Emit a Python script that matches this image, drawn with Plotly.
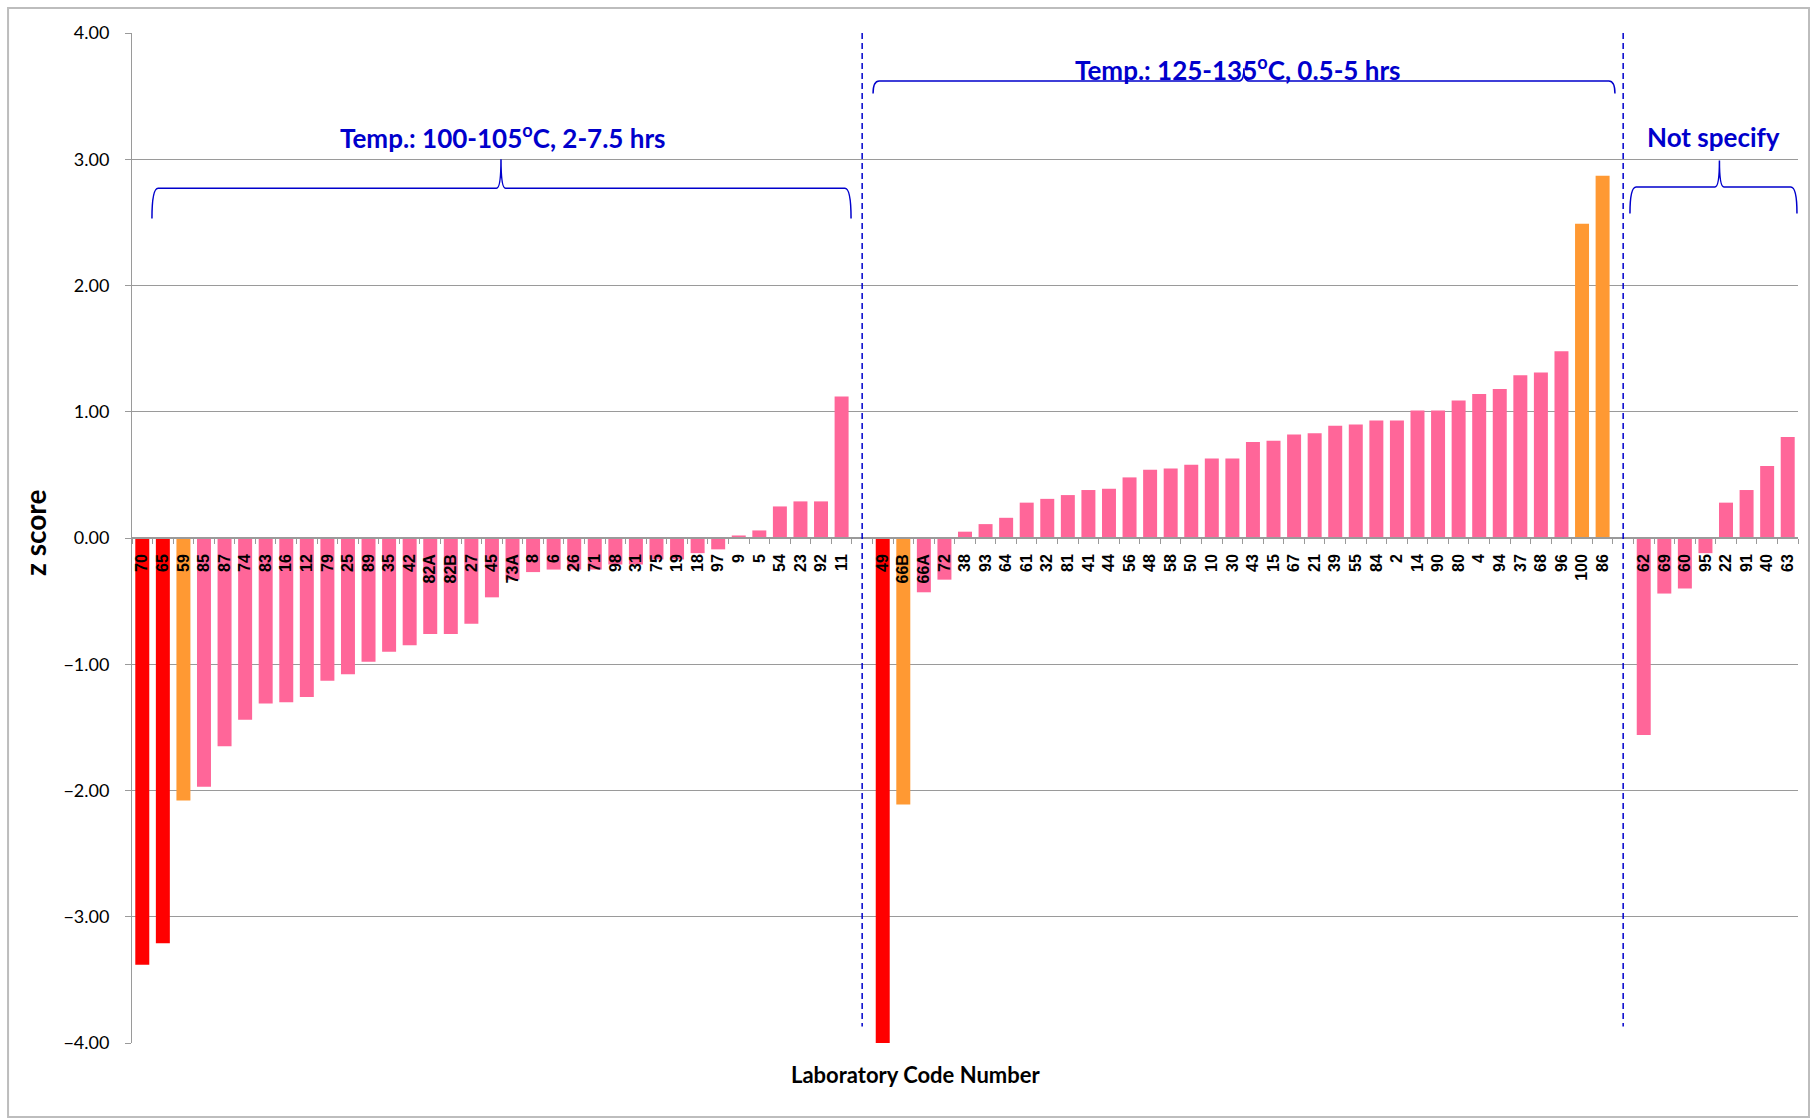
import plotly.graph_objects as go

# z scores per laboratory, grouped by drying condition
g1_labels = ["70", "65", "59", "85", "87", "74", "83", "16", "12", "79", "25", "89",
             "35", "42", "82A", "82B", "27", "45", "73A", "8", "6", "26", "71", "98",
             "31", "75", "19", "18", "97", "9", "5", "54", "23", "92", "11"]
g1_z = [-3.38, -3.21, -2.08, -1.97, -1.65, -1.44, -1.31, -1.30, -1.26, -1.13, -1.08, -0.98,
        -0.90, -0.85, -0.76, -0.76, -0.68, -0.47, -0.33, -0.27, -0.25, -0.25, -0.25, -0.21,
        -0.21, -0.17, -0.17, -0.12, -0.09, 0.02, 0.06, 0.25, 0.29, 0.29, 1.12]

g2_labels = ["49", "66B", "66A", "72", "38", "93", "64", "61", "32", "81", "41", "44",
             "56", "48", "58", "50", "10", "30", "43", "15", "67", "21", "39", "55",
             "84", "2", "14", "90", "80", "4", "94", "37", "68", "96", "100", "86"]
g2_z = [-4.00, -2.11, -0.43, -0.33, 0.05, 0.11, 0.16, 0.28, 0.31, 0.34, 0.38, 0.39,
        0.48, 0.54, 0.55, 0.58, 0.63, 0.63, 0.76, 0.77, 0.82, 0.83, 0.89, 0.90,
        0.93, 0.93, 1.01, 1.01, 1.09, 1.14, 1.18, 1.29, 1.31, 1.48, 2.49, 2.87]

g3_labels = ["62", "69", "60", "95", "22", "91", "40", "63"]
g3_z = [-1.56, -0.44, -0.40, -0.12, 0.28, 0.38, 0.57, 0.80]

group_titles = ["Temp.: 100-105<sup>o</sup>C, 2-7.5 hrs",
                "Temp.: 125-135<sup>o</sup>C, 0.5-5 hrs",
                "Not specify"]

RED, ORANGE, PINK = "#FF0000", "#FF9933", "#FF6699"
BLUE = "#0000CC"
GRID = "#9A9A9A"


def z_colour(z):
    a = abs(z)
    if a >= 3:
        return RED
    if a >= 2:
        return ORANGE
    return PINK


# lay the groups out on one axis, with an empty slot between groups
groups = [(g1_labels, g1_z), (g2_labels, g2_z), (g3_labels, g3_z)]
xs, zs, labels, spans, seps = [], [], [], [], []
pos = 0
for gi, (lab, zz) in enumerate(groups):
    start = pos
    for l, z in zip(lab, zz):
        xs.append(pos)
        zs.append(z)
        labels.append(l)
        pos += 1
    spans.append((start, pos - 1))
    if gi < len(groups) - 1:
        seps.append(pos)
        pos += 1
n_slots = pos

fig = go.Figure(go.Bar(
    x=xs, y=zs,
    marker=dict(color=[z_colour(z) for z in zs], line=dict(width=0)),
    width=0.68,
    hoverinfo="x+y",
))

shapes = []
# dashed separators between groups
for s in seps:
    shapes.append(dict(type="line", xref="x", yref="y", x0=s, x1=s, y0=4.0, y1=-3.87,
                       line=dict(color=BLUE, width=1.5, dash="6px,4px")))


def brace(xl, xr, xc, yh, yt, yp, rx=0.3, px=0.22):
    return (f"M {xl},{yt} Q {xl},{yh} {xl + rx},{yh} "
            f"L {xc - px},{yh} Q {xc},{yh} {xc},{yp} "
            f"Q {xc},{yh} {xc + px},{yh} "
            f"L {xr - rx},{yh} Q {xr},{yh} {xr},{yt}")


brace_geom = [
    (0.47, 34.46, 17.44, 2.77, 2.53, 3.00),
    (35.53, 71.60, 53.56, 3.62, 3.52, 3.72),
    (72.33, 80.45, 76.68, 2.78, 2.57, 2.99),
]
for g in brace_geom:
    shapes.append(dict(type="path", xref="x", yref="y", path=brace(*g),
                       line=dict(color=BLUE, width=1.5)))

# chart border
shapes.append(dict(type="rect", xref="paper", yref="paper",
                   x0=-0.0744, x1=1.0066, y0=-0.0733, y1=1.0248,
                   line=dict(color="#BDBDBD", width=2), layer="below"))

title_font = dict(family="Lato", size=26, color=BLUE, weight="bold")
annotations = [
    dict(x=17.54, y=3.18, xref="x", yref="y", text=group_titles[0], showarrow=False,
         font=title_font),
    dict(x=53.25, y=3.72, xref="x", yref="y", text=group_titles[1], showarrow=False,
         font=title_font),
    dict(x=76.37, y=3.18, xref="x", yref="y", text=group_titles[2], showarrow=False,
         font=title_font),
    dict(x=(35 - 132) / 1666, y=0.04, xref="paper", yref="y", text="z score",
         textangle=-90, showarrow=False, xanchor="center", yanchor="middle",
         font=dict(family="Lato", size=28, color="black", weight="bold")),
    dict(x=(915 - 132) / 1666, y=(1043 - 1090) / 1010, xref="paper", yref="paper",
         text="Laboratory Code Number", showarrow=False,
         font=dict(family="Lato", size=22, color="black", weight="bold")),
]

fig.update_layout(
    width=1818, height=1120,
    margin=dict(l=132, r=20, t=33, b=77),
    paper_bgcolor="white", plot_bgcolor="white",
    showlegend=False,
    shapes=shapes,
    annotations=annotations,
    xaxis=dict(
        range=[-0.5, n_slots - 0.5],
        tickmode="array", tickvals=xs, ticktext=labels,
        tickangle=-90, ticks="", ticklabelstandoff=9,
        tickfont=dict(family="Liberation Sans", size=16, color="black", weight="bold"),
        showgrid=False, zeroline=False,
        showline=True, linecolor=GRID, linewidth=1.5,
        anchor="free", position=0.5,
        minor=dict(tickvals=[i - 0.5 for i in range(n_slots + 1)], ticks="outside",
                   ticklen=5, tickcolor=GRID, tickwidth=1, showgrid=False),
    ),
    yaxis=dict(
        range=[-4, 4], dtick=1, tickformat=".2f",
        tickfont=dict(family="Lato", size=18, color="black"),
        showgrid=True, gridcolor=GRID, gridwidth=1,
        zeroline=False,
        showline=True, linecolor=GRID, linewidth=1,
        ticks="outside", ticklen=6, tickcolor=GRID, ticklabelstandoff=12,
    ),
)

fig.write_html("out.html")
